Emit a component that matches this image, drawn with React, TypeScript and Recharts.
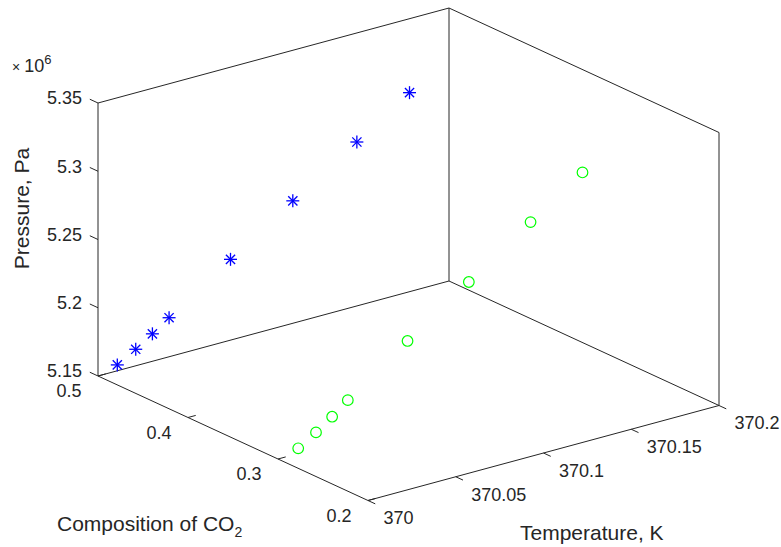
import React from 'react';
import { ScatterChart, Scatter, XAxis, YAxis, ReferenceLine } from 'recharts';

const W = 781;
const H = 547;

// the two series share T and P, they differ in CO2 composition
const temperature = [370.011, 370.0215, 370.031, 370.0405, 370.0755, 370.111, 370.1475, 370.1775];
const pressure = [5.1543e6, 5.1621e6, 5.1701e6, 5.1786e6, 5.2092e6, 5.2397e6, 5.2701e6, 5.2958e6];
const liquidCO2 = [0.5, 0.5, 0.5, 0.5, 0.5, 0.5, 0.5, 0.5];
const vaporCO2 = [0.299, 0.2997, 0.3003, 0.3014, 0.3033, 0.3044, 0.307, 0.3078];

const tempTicks = [370, 370.05, 370.1, 370.15, 370.2];
const compTicks = [0.2, 0.3, 0.4, 0.5];
const presTicks = [5.15e6, 5.2e6, 5.25e6, 5.3e6, 5.35e6];

const T_RANGE = [370, 370.2];
const C_RANGE = [0.2, 0.5];
const P_RANGE = [5.15e6, 5.35e6];

// screen position of the (Tmin, Cmin, Pmin) corner and the projected edge vectors of the box
const ORIGIN = { x: 368, y: 500.5 };
const T_VEC = { x: 351, y: -95 };
const C_VEC = { x: -270, y: -124.5 };
const P_VEC = { x: 0, y: -273 };

const AXIS = '#262626';
const FONT = '"Liberation Sans", Arial, Helvetica, sans-serif';

const norm = (v: number, r: number[]) => (v - r[0]) / (r[1] - r[0]);

function proj(tn: number, cn: number, pn: number) {
  return {
    x: ORIGIN.x + tn * T_VEC.x + cn * C_VEC.x + pn * P_VEC.x,
    y: ORIGIN.y + tn * T_VEC.y + cn * C_VEC.y + pn * P_VEC.y,
  };
}

function project(t: number, c: number, p: number) {
  return proj(norm(t, T_RANGE), norm(c, C_RANGE), norm(p, P_RANGE));
}

const liquidPts = temperature.map((t, i) => project(t, liquidCO2[i], pressure[i]));
const vaporPts = temperature.map((t, i) => project(t, vaporCO2[i], pressure[i]));

// box edges drawn by MATLAB (axes + back faces), in normalized coords
const edges: [number[], number[]][] = [
  [[0, 1, 0], [0, 0, 0]],
  [[0, 0, 0], [1, 0, 0]],
  [[0, 1, 0], [0, 1, 1]],
  [[0, 1, 0], [1, 1, 0]],
  [[1, 1, 0], [1, 0, 0]],
  [[1, 1, 0], [1, 1, 1]],
  [[1, 0, 0], [1, 0, 1]],
  [[0, 1, 1], [1, 1, 1]],
  [[1, 1, 1], [1, 0, 1]],
];

const unit = (v: { x: number; y: number }, len: number) => {
  const l = Math.hypot(v.x, v.y);
  return { x: (v.x / l) * len, y: (v.y / l) * len };
};

const tickSegs: { a: { x: number; y: number }; b: { x: number; y: number } }[] = [];
const labels: any[] = [];

presTicks.forEach((p) => {
  const a = proj(0, 1, norm(p, P_RANGE));
  const d = unit(C_VEC, 9);
  tickSegs.push({ a, b: { x: a.x + d.x, y: a.y + d.y } });
  labels.push({ x: a.x - 16, y: a.y - 5, text: (p / 1e6).toString(), anchor: 'end', size: 18 });
});
compTicks.forEach((c) => {
  const a = proj(0, norm(c, C_RANGE), 0);
  const d = unit(T_VEC, 8);
  tickSegs.push({ a, b: { x: a.x + d.x, y: a.y + d.y } });
  labels.push({ x: a.x - 29, y: a.y + 15, text: c.toString(), anchor: 'middle', size: 18 });
});
tempTicks.forEach((t) => {
  const a = proj(norm(t, T_RANGE), 0, 0);
  const d = unit(C_VEC, -8);
  tickSegs.push({ a, b: { x: a.x + d.x, y: a.y + d.y } });
  labels.push({ x: a.x + 15.5, y: a.y + 17.5, text: t.toString(), anchor: 'start', size: 18 });
});

const zTop = proj(0, 1, 1);
labels.push({ x: zTop.x - 86, y: zTop.y - 31, kind: 'exp' });
labels.push({ x: 29, y: 208.5, text: 'Pressure, Pa', anchor: 'middle', size: 21, rotate: true, baseline: true });
labels.push({ x: 57, y: 531, text: 'Composition of CO', sub: '2', anchor: 'start', size: 21, baseline: true });
labels.push({ x: 520, y: 540, text: 'Temperature, K', anchor: 'start', size: 21, baseline: true });

const StarMark = (props: any) => {
  const { cx, cy } = props;
  const r = 6.5;
  const d = 4.6;
  return (
    <g stroke="#0000ff" strokeWidth={1.3}>
      <line x1={cx - r} y1={cy} x2={cx + r} y2={cy} />
      <line x1={cx} y1={cy - r} x2={cx} y2={cy + r} />
      <line x1={cx - d} y1={cy - d} x2={cx + d} y2={cy + d} />
      <line x1={cx - d} y1={cy + d} x2={cx + d} y2={cy - d} />
    </g>
  );
};

const CircleMark = (props: any) => (
  <circle cx={props.cx} cy={props.cy} r={5.3} fill="none" stroke="#00ff00" strokeWidth={1.2} />
);

const TextMark = (props: any) => {
  const { cx, cy, payload } = props;
  if (payload.kind === 'exp') {
    return (
      <text x={cx} y={cy} fill={AXIS} fontFamily={FONT} fontSize={18}>
        <tspan fontSize={14}>×</tspan>
        <tspan dx={4}>10</tspan>
        <tspan fontSize={13} dy={-8}>6</tspan>
      </text>
    );
  }
  return (
    <text
      x={cx}
      y={cy}
      dy={payload.baseline ? 0 : '0.35em'}
      textAnchor={payload.anchor}
      fill={AXIS}
      fontFamily={FONT}
      fontSize={payload.size}
      transform={payload.rotate ? `rotate(-90 ${cx} ${cy})` : undefined}
    >
      {payload.text}
      {payload.sub ? (
        <tspan fontSize={14} dy={6}>
          {payload.sub}
        </tspan>
      ) : null}
    </text>
  );
};

export default function App() {
  return (
    <div style={{ position: 'absolute', left: 0, top: 0, width: W, height: H, background: '#fff' }}>
      <ScatterChart width={W} height={H} margin={{ top: 0, right: 0, bottom: 0, left: 0 }}>
        <XAxis type="number" dataKey="x" domain={[0, W]} allowDataOverflow hide />
        <YAxis type="number" dataKey="y" domain={[0, H]} allowDataOverflow reversed hide />
        {edges.map(([p, q], i) => {
          const a = proj(p[0], p[1], p[2]);
          const b = proj(q[0], q[1], q[2]);
          return (
            <ReferenceLine
              key={`e${i}`}
              segment={[a, b]}
              stroke={AXIS}
              strokeWidth={1}
              ifOverflow="visible"
            />
          );
        })}
        {tickSegs.map((s, i) => (
          <ReferenceLine key={`t${i}`} segment={[s.a, s.b]} stroke={AXIS} strokeWidth={1} ifOverflow="visible" />
        ))}
        <Scatter data={liquidPts} shape={StarMark} isAnimationActive={false} />
        <Scatter data={vaporPts} shape={CircleMark} isAnimationActive={false} />
        <Scatter data={labels} shape={TextMark} isAnimationActive={false} />
      </ScatterChart>
    </div>
  );
}
